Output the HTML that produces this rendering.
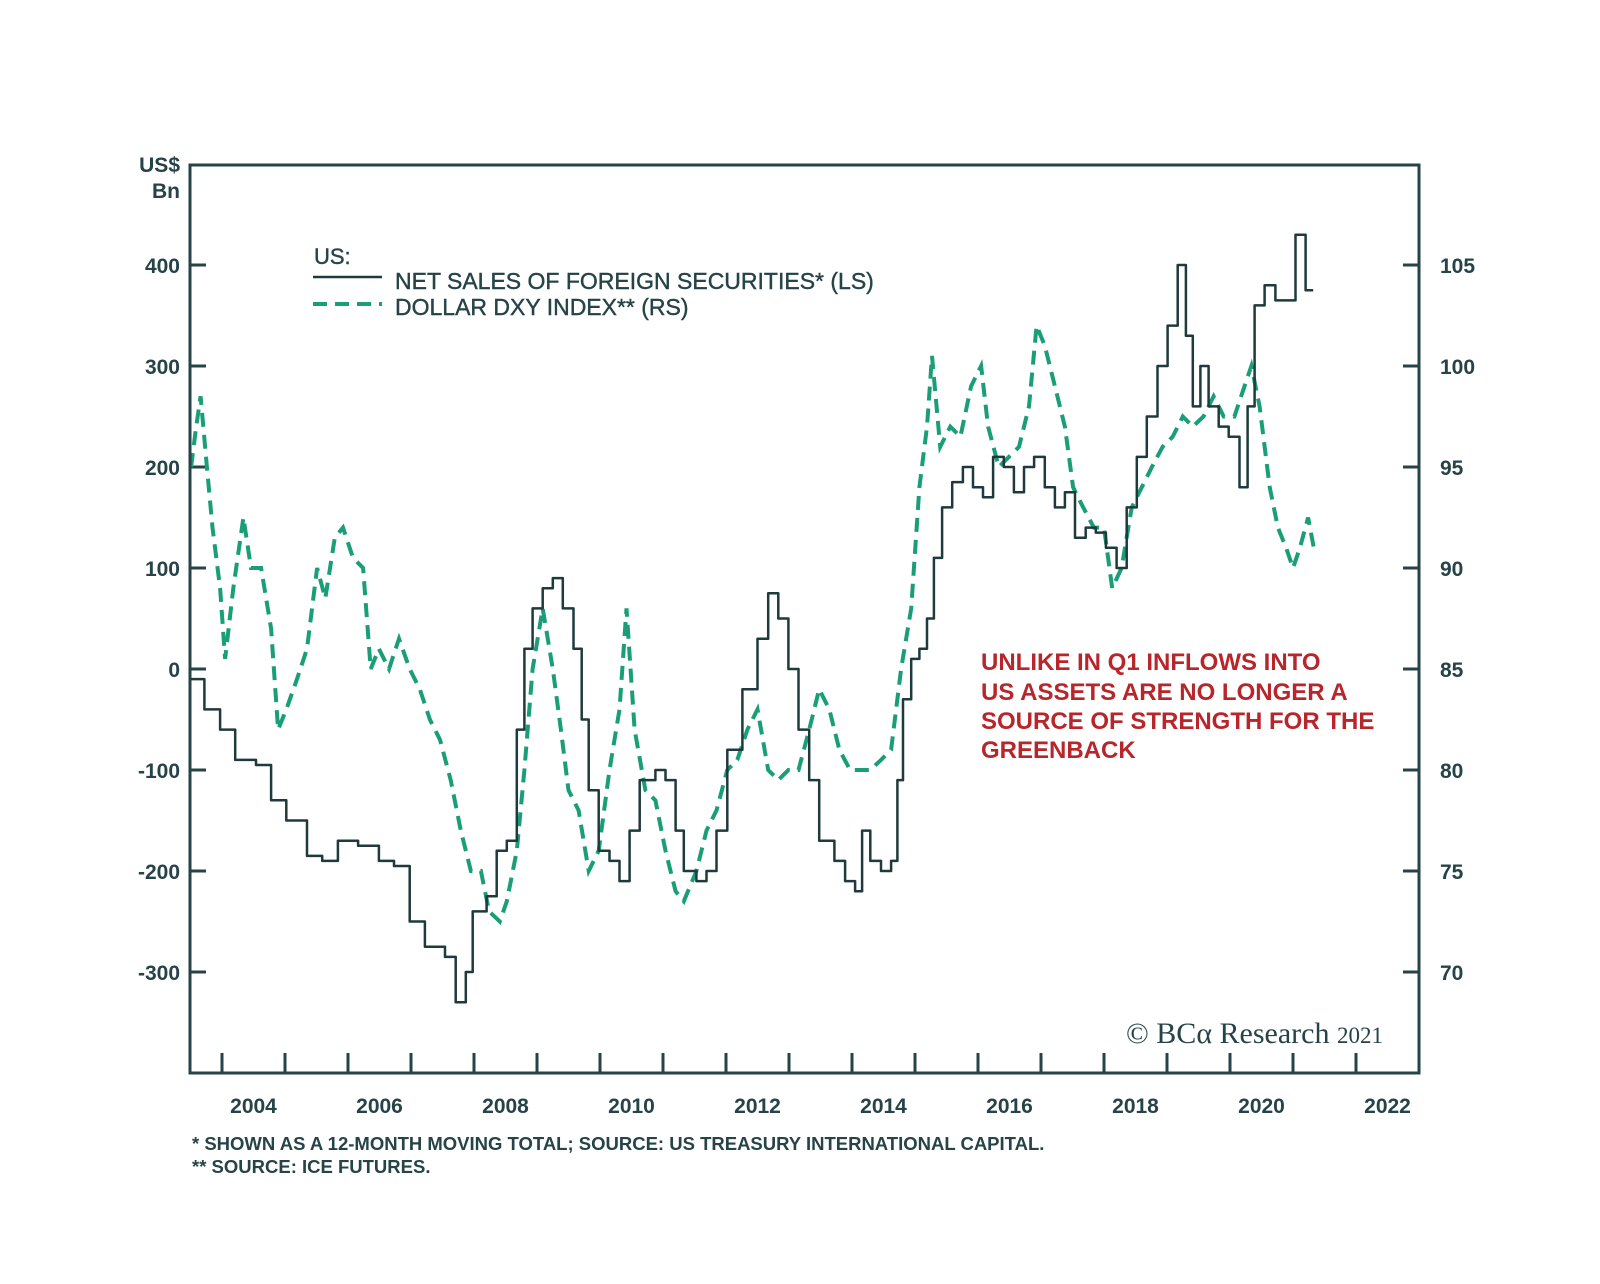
<!DOCTYPE html>
<html><head><meta charset="utf-8"><style>
html,body{margin:0;padding:0;background:#fff;}
svg{display:block;font-family:"Liberation Sans",Arial,sans-serif;}
</style></head><body>
<svg id="chart" width="1600" height="1284" viewBox="0 0 1600 1284">
<rect x="0" y="0" width="1600" height="1284" fill="#fff"/>
<g id="grid"></g>
<g id="series"></g>
<rect x="190" y="165" width="1229" height="908" fill="none" stroke="#264347" stroke-width="3"/>
<text x="180" y="172" text-anchor="end" font-size="21" font-weight="bold" fill="#264347">US$</text>
<text x="180" y="198" text-anchor="end" font-size="21" font-weight="bold" fill="#264347">Bn</text>
<g>
<text x="314" y="264" font-size="22" fill="#264347" stroke="#264347" stroke-width="0.4">US:</text>
<line x1="313" y1="277" x2="382" y2="277" stroke="#1f3a3d" stroke-width="2.5"/>
<text x="395" y="289" font-size="23" fill="#264347" stroke="#264347" stroke-width="0.4">NET SALES OF FOREIGN SECURITIES* (LS)</text>
<line x1="313" y1="304" x2="382" y2="304" stroke="#1a9e78" stroke-width="4" stroke-dasharray="14 8"/>
<text x="395" y="315" font-size="23" fill="#264347" stroke="#264347" stroke-width="0.4">DOLLAR DXY INDEX** (RS)</text>
</g>
<g font-size="24" font-weight="bold" fill="#b8262b">
<text x="981" y="670">UNLIKE IN Q1 INFLOWS INTO</text>
<text x="981" y="700">US ASSETS ARE NO LONGER A</text>
<text x="981" y="729">SOURCE OF STRENGTH FOR THE</text>
<text x="981" y="758">GREENBACK</text>
</g>
<text x="1126" y="1043" font-family="Liberation Serif,serif" font-size="30" fill="#264347">© BCα Research <tspan font-size="23">2021</tspan></text>
<text x="192" y="1150" font-size="18.5" font-weight="bold" fill="#264347">*  SHOWN AS A 12-MONTH MOVING TOTAL; SOURCE: US TREASURY INTERNATIONAL CAPITAL.</text>
<text x="192" y="1173" font-size="18.5" font-weight="bold" fill="#264347">** SOURCE: ICE FUTURES.</text>
</svg>
<script>
const netYears=[2003.51,2003.72,2003.97,2004.21,2004.54,2004.78,2005.02,2005.35,2005.59,2005.84,2006.16,2006.49,2006.73,2006.98,2007.22,2007.54,2007.71,2007.87,2007.98,2008.20,2008.36,2008.52,2008.68,2008.80,2008.93,2009.09,2009.25,2009.41,2009.58,2009.71,2009.82,2009.98,2010.15,2010.31,2010.47,2010.63,2010.88,2011.04,2011.20,2011.33,2011.53,2011.69,2011.85,2012.02,2012.26,2012.50,2012.67,2012.83,2012.99,2013.15,2013.32,2013.48,2013.72,2013.89,2014.05,2014.16,2014.29,2014.46,2014.62,2014.72,2014.81,2014.94,2015.07,2015.19,2015.30,2015.43,2015.59,2015.76,2015.92,2016.08,2016.24,2016.41,2016.57,2016.73,2016.89,2017.06,2017.22,2017.38,2017.54,2017.71,2017.87,2018.03,2018.20,2018.36,2018.52,2018.68,2018.85,2019.01,2019.17,2019.30,2019.41,2019.53,2019.66,2019.82,2019.98,2020.15,2020.28,2020.39,2020.55,2020.72,2020.88,2021.04,2021.15,2021.20,2021.32];
const netValues=[-10,-40,-60,-90,-95,-130,-150,-185,-190,-170,-175,-190,-195,-250,-275,-285,-330,-300,-240,-225,-180,-170,-60,20,60,80,90,60,20,-50,-120,-180,-190,-210,-160,-110,-100,-110,-160,-200,-210,-200,-160,-80,-20,30,75,50,0,-60,-110,-170,-190,-210,-220,-160,-190,-200,-190,-110,-30,10,20,50,110,160,185,200,180,170,210,200,175,200,210,180,160,175,130,140,135,120,100,160,210,250,300,340,400,330,260,300,260,240,230,180,260,360,380,365,365,430,430,375,375];
const dxyYears=[2003.51,2003.59,2003.66,2003.76,2003.85,2003.97,2004.05,2004.18,2004.34,2004.46,2004.62,2004.78,2004.89,2005.02,2005.19,2005.35,2005.51,2005.64,2005.79,2005.92,2006.08,2006.24,2006.36,2006.49,2006.65,2006.81,2006.98,2007.14,2007.30,2007.46,2007.63,2007.79,2007.95,2008.11,2008.24,2008.41,2008.52,2008.68,2008.80,2008.93,2009.09,2009.25,2009.38,2009.50,2009.66,2009.82,2009.98,2010.15,2010.31,2010.42,2010.55,2010.72,2010.88,2011.04,2011.20,2011.33,2011.53,2011.69,2011.85,2012.02,2012.18,2012.34,2012.50,2012.67,2012.83,2012.99,2013.15,2013.32,2013.48,2013.64,2013.80,2013.97,2014.13,2014.29,2014.46,2014.62,2014.78,2014.94,2015.07,2015.19,2015.27,2015.40,2015.56,2015.72,2015.89,2016.05,2016.16,2016.33,2016.49,2016.65,2016.81,2016.93,2017.06,2017.22,2017.38,2017.51,2017.67,2017.84,2018.00,2018.13,2018.28,2018.44,2018.60,2018.76,2018.93,2019.09,2019.25,2019.41,2019.58,2019.74,2019.90,2020.07,2020.23,2020.34,2020.47,2020.63,2020.76,2020.89,2021.00,2021.11,2021.24,2021.33];
const dxyValues=[95,97,98.5,95,92,89,85.5,89,92.5,90,90,87,82,83,84.5,86,90,88.5,91.5,92,90.5,90,85,86,85,86.5,85,84,82.5,81.5,79.5,77,75,75,73,72.5,73.5,76,80,85,88,85,82,79,78,75,76,80,83,88,82,79,78.5,76,74,73.5,75,77,78,80,80.5,82,83,80,79.5,80,80,82,84,83,81,80,80,80,80.5,81,85,88,94,97,100.5,96,97,96.5,99,100,97,95,95.5,96,98,102,101,99,97,94,93,92,92,89,90,93,94,95,96,96.5,97.5,97,97.5,98.5,97.5,97.5,99,100,98,94,92,91,90,91,92.5,91];
const leftTicks=[400,300,200,100,0,-100,-200,-300];
const rightTicks=[105,100,95,90,85,80,75,70];
const yearTicks=[2004,2005,2006,2007,2008,2009,2010,2011,2012,2013,2014,2015,2016,2017,2018,2019,2020,2021,2022];
const yearLabels=[2004,2006,2008,2010,2012,2014,2016,2018,2020,2022];

const NS='http://www.w3.org/2000/svg';
function x(t){return 222+(t-2004)*63;}
function yL(v){return 669-v*1.01;}
function yR(v){return 669-(v-85)*20.2;}
function mk(tag,attrs,parent){const e=document.createElementNS(NS,tag);for(const k in attrs)e.setAttribute(k,attrs[k]);parent.appendChild(e);return e;}
const grid=document.getElementById('grid');
const ser=document.getElementById('series');
const C='#264347';
leftTicks.forEach(v=>{
  const l=mk('line',{x1:190,x2:206,y1:yL(v),y2:yL(v),stroke:C,'stroke-width':3},grid);
  
  
  const t=mk('text',{x:180,y:yL(v)+8,'text-anchor':'end','font-size':21,'font-weight':'bold',fill:C},grid);
  t.textContent=v;
  
  
});
rightTicks.forEach(v=>{
  const l=mk('line',{x1:1403,x2:1419,y1:yR(v),y2:yR(v),stroke:C,'stroke-width':3},grid);
  
  
  const t=mk('text',{x:1440,y:yR(v)+8,'font-size':21,'font-weight':'bold',fill:C},grid);
  t.textContent=v;
  
  
});
yearTicks.forEach(v=>{
  const l=mk('line',{x1:x(v),x2:x(v),y1:1073,y2:1053,stroke:C,'stroke-width':3},grid);
  
  
});
yearLabels.forEach(v=>{
  const t=mk('text',{x:x(v+0.5),y:1113,'text-anchor':'middle','font-size':21,'font-weight':'bold',fill:C},grid);
  t.textContent=v;
  
  
});
const dp=dxyYears.map((t,i)=>x(t).toFixed(1)+','+yR(dxyValues[i]).toFixed(1)).join(' ');
const g=mk('polyline',{points:dp,fill:'none',stroke:'#1a9e78','stroke-width':4,'stroke-dasharray':'14 8'},ser);


let np=[];
netYears.forEach((t,i)=>{
  if(i>0)np.push(x(t).toFixed(1)+','+yL(netValues[i-1]).toFixed(1));
  np.push(x(t).toFixed(1)+','+yL(netValues[i]).toFixed(1));
});
const b=mk('polyline',{points:np.join(' '),fill:'none',stroke:'#1f3a3d','stroke-width':2.5,'stroke-linejoin':'round'},ser);


</script>
</body></html>
